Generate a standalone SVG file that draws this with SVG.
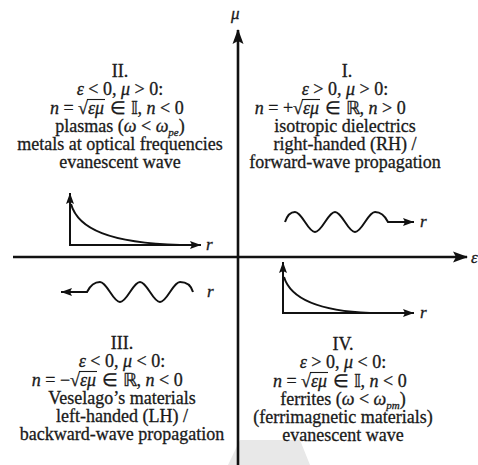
<svg xmlns="http://www.w3.org/2000/svg" width="478" height="465" viewBox="0 0 478 465">
<defs>
<marker id="big" markerUnits="userSpaceOnUse" markerWidth="16" markerHeight="12" refX="14" refY="6" orient="auto"><path d="M0,0.5 L15,6 L0,11.5 L3,6 Z" fill="#111"/></marker>
<marker id="sm" markerUnits="userSpaceOnUse" markerWidth="12" markerHeight="10" refX="11" refY="5" orient="auto"><path d="M0,1 L11,5 L0,9 L2,5 Z" fill="#111"/></marker>
</defs>
<style>
text{font-family:"Liberation Serif","Times New Roman",serif;font-size:18px;fill:#1a1a1a;stroke:#1a1a1a;stroke-width:0.3;text-anchor:middle}
.i{font-style:italic}
.e{text-anchor:end}
.s{text-anchor:start}
.sub{font-size:11px;font-style:italic}
.lbl{font-style:italic;font-size:17px;text-anchor:start}
.ax{stroke:#111;stroke-width:2.6;fill:none}
.pl{stroke:#111;stroke-width:2;fill:none}
.bar{stroke:#1a1a1a;stroke-width:1.1}
</style>
<rect width="478" height="465" fill="#fff"/>
<path d="M228,465 L240,440 L300,440 L310,465 Z" fill="#e8e8e8"/>
<g id="axes">
<line class="ax" x1="238" y1="465" x2="238" y2="30" marker-end="url(#big)"/>
<line class="ax" x1="13" y1="257" x2="467" y2="257" marker-end="url(#big)"/>
<text class="lbl" x="231" y="19">μ</text>
<text class="lbl" x="471" y="263">ε</text>
</g>
<g id="quadrant-I">
<text x="347" y="77">I.</text>
<text x="345" y="95"><tspan class="i">ε</tspan> &gt; 0, <tspan class="i">μ</tspan> &gt; 0:</text>
<text class="e" x="303" y="114"><tspan class="i">n</tspan> = +√</text>
<text class="s i" x="303" y="114" textLength="16" lengthAdjust="spacingAndGlyphs">εμ</text>
<line class="bar" x1="302" y1="99.5" x2="320" y2="99.5"/>
<text class="s" x="325" y="114">∈ ℝ, <tspan class="i">n</tspan> &gt; 0</text>
<text x="345" y="132">isotropic dielectrics</text>
<text x="345" y="150">right-handed (RH) /</text>
<text x="345" y="168">forward-wave propagation</text>
<path class="pl" d="M285,222 C288,213 292,212 295,212 C302,212 308,232 315,232 C322,232 328,212 335,212 C342,212 348,232 355,232 C362,232 368,212 375,212 C381,212 385,216 388,222 L414,222" marker-end="url(#sm)"/>
<text class="lbl" x="420" y="227">r</text>
</g>
<g id="quadrant-II">
<text x="120" y="77">II.</text>
<text x="120" y="95"><tspan class="i">ε</tspan> &lt; 0, <tspan class="i">μ</tspan> &gt; 0:</text>
<text class="e" x="88" y="114"><tspan class="i">n</tspan> = √</text>
<text class="s i" x="88" y="114" textLength="16" lengthAdjust="spacingAndGlyphs">εμ</text>
<line class="bar" x1="87" y1="99.5" x2="105" y2="99.5"/>
<text class="s" x="110" y="114">∈ 𝕀, <tspan class="i">n</tspan> &lt; 0</text>
<text x="120" y="132">plasmas (<tspan class="i">ω</tspan> &lt; <tspan class="i">ω</tspan><tspan class="sub" dy="4">pe</tspan><tspan dy="-4">)</tspan></text>
<text x="120" y="150">metals at optical frequencies</text>
<text x="120" y="168">evanescent wave</text>
<line class="pl" x1="70" y1="246" x2="70" y2="193" marker-end="url(#sm)"/>
<line class="pl" x1="69" y1="245" x2="201" y2="245" marker-end="url(#sm)"/>
<path class="pl" d="M71,204 C78,229 110,243 180,245"/>
<text class="lbl" x="206" y="250">r</text>
</g>
<g id="quadrant-III">
<text x="122" y="349">III.</text>
<text x="122" y="367"><tspan class="i">ε</tspan> &lt; 0, <tspan class="i">μ</tspan> &lt; 0:</text>
<text class="e" x="80" y="386"><tspan class="i">n</tspan> = −√</text>
<text class="s i" x="80" y="386" textLength="16" lengthAdjust="spacingAndGlyphs">εμ</text>
<line class="bar" x1="79" y1="371.5" x2="97" y2="371.5"/>
<text class="s" x="102" y="386">∈ ℝ, <tspan class="i">n</tspan> &lt; 0</text>
<text x="122" y="404">Veselago’s materials</text>
<text x="122" y="422">left-handed (LH) /</text>
<text x="122" y="440">backward-wave propagation</text>
<path class="pl" d="M193,292 C191,285 186,282 180,282 C173,282 167,302 160,302 C153,302 147,282 140,282 C133,282 127,302 120,302 C113,302 107,282 100,282 C94,282 90,286 87,292 L61,292" marker-end="url(#sm)"/>
<text class="lbl" x="207" y="297">r</text>
</g>
<g id="quadrant-IV">
<text x="343" y="350">IV.</text>
<text x="343" y="368"><tspan class="i">ε</tspan> &gt; 0, <tspan class="i">μ</tspan> &lt; 0:</text>
<text class="e" x="311" y="387"><tspan class="i">n</tspan> = √</text>
<text class="s i" x="311" y="387" textLength="16" lengthAdjust="spacingAndGlyphs">εμ</text>
<line class="bar" x1="310" y1="372.5" x2="328" y2="372.5"/>
<text class="s" x="333" y="387">∈ 𝕀, <tspan class="i">n</tspan> &lt; 0</text>
<text x="343" y="405">ferrites (<tspan class="i">ω</tspan> &lt; <tspan class="i">ω</tspan><tspan class="sub" dy="4">pm</tspan><tspan dy="-4">)</tspan></text>
<text x="343" y="423">(ferrimagnetic materials)</text>
<text x="343" y="441">evanescent wave</text>
<line class="pl" x1="283" y1="314" x2="283" y2="262" marker-end="url(#sm)"/>
<line class="pl" x1="282" y1="313" x2="414" y2="313" marker-end="url(#sm)"/>
<path class="pl" d="M284,277 C291,300 320,311 370,313"/>
<text class="lbl" x="420" y="318">r</text>
</g>
</svg>
